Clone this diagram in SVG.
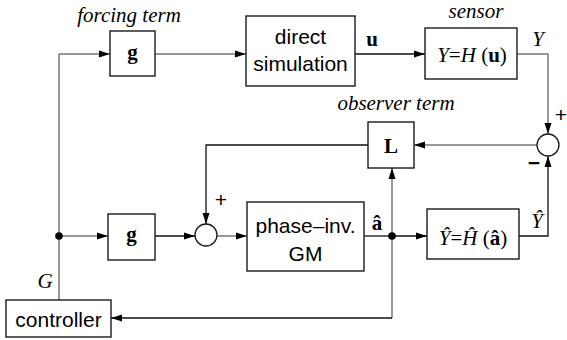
<svg xmlns="http://www.w3.org/2000/svg" width="567" height="340" viewBox="0 0 567 340">
<defs>
<marker id="ah" markerUnits="userSpaceOnUse" markerWidth="12" markerHeight="8" refX="11" refY="4" orient="auto">
<path d="M0,0.5 L11,4 L0,7.5 Z" fill="#000"/>
</marker>
<style>
.box{fill:#fff;stroke:#1a1a1a;stroke-width:1.4}
.sum{fill:#fff;stroke:#1a1a1a;stroke-width:1.3}
.ln{fill:none;stroke:#111;stroke-width:1.3}
.gr{fill:none;stroke:#777;stroke-width:1.5}
.arr{marker-end:url(#ah)}
.sans{font-family:"Liberation Sans",Arial,sans-serif;font-size:21px;fill:#000;text-anchor:middle}
.ser{font-family:"Liberation Serif","Times New Roman",serif;font-size:21px;fill:#000;text-anchor:middle}
.it{font-style:italic}
.bd{font-weight:bold}
</style>
</defs>

<g id="connectors">
<path class="gr" d="M59,300 V54"/>
<path class="gr arr" d="M59,54 H110"/>
<path class="gr arr" d="M155,54 H246"/>
<path class="ln arr" d="M355,54 H425"/>
<path class="gr arr" d="M517,54 H548 V134"/>
<path class="gr arr" d="M537,145 H414"/>
<path class="ln arr" d="M368,145 H206 V224"/>
<path class="gr arr" d="M59,236 H108"/>
<path class="ln arr" d="M155,236 H195"/>
<path class="gr arr" d="M217,236 H247"/>
<path class="ln" d="M364,236 H392"/>
<path class="ln arr" d="M392,236 H427"/>
<path class="gr arr" d="M392,236 V168"/>
<path class="gr" d="M392,236 V318"/>
<path class="ln arr" d="M392,318 H111"/>
<path class="ln arr" d="M519,236 H548 V156"/>
<circle cx="59" cy="236" r="3.8" fill="#000"/>
<circle cx="392" cy="236" r="3.8" fill="#000"/>
</g>

<g id="g-forcing">
<rect class="box" x="110" y="31" width="45" height="45"/>
<text class="ser bd" x="132.5" y="59" font-size="23">g</text>
<text class="ser it" x="129" y="22">forcing term</text>
</g>

<g id="direct-simulation">
<rect class="box" x="246" y="16" width="109" height="70"/>
<text class="sans" x="300.5" y="44">direct</text>
<text class="sans" x="300.5" y="71">simulation</text>
</g>

<g id="u-label">
<text class="ser bd" x="372" y="46">u</text>
</g>

<g id="sensor">
<rect class="box" x="425" y="28" width="92" height="51"/>
<text class="ser" x="472" y="62" font-size="22"><tspan class="it">Y</tspan>=<tspan class="it">H</tspan> (<tspan class="bd">u</tspan>)</text>
<text class="ser it" x="476" y="18">sensor</text>
</g>

<g id="Y-label">
<text class="ser it" x="538" y="46">Y</text>
</g>

<g id="sum-top">
<circle class="sum" cx="548" cy="145" r="11"/>
<text class="sans" x="561" y="122" font-size="23">+</text>
<text class="sans bd" x="534" y="170" font-size="24">−</text>
</g>

<g id="observer-L">
<rect class="box" x="368" y="122" width="46" height="46"/>
<text class="ser bd" x="391" y="153" font-size="22">L</text>
<text class="ser it" x="396" y="110">observer term</text>
</g>

<g id="g-lower">
<rect class="box" x="108" y="214" width="47" height="46"/>
<text class="ser bd" x="131.5" y="241" font-size="23">g</text>
</g>

<g id="sum-bottom">
<circle class="sum" cx="206" cy="235" r="11"/>
<text class="sans" x="221" y="207" font-size="23">+</text>
</g>

<g id="phase-inv-GM">
<rect class="box" x="247" y="202" width="117" height="69"/>
<text class="sans" x="305.5" y="233">phase–inv.</text>
<text class="sans" x="305.5" y="261">GM</text>
</g>

<g id="a-hat-label">
<text class="ser bd" x="377" y="230">â</text>
</g>

<g id="model-sensor">
<rect class="box" x="427" y="209" width="92" height="50"/>
<text class="ser" x="473" y="245" font-size="22"><tspan class="it">Ŷ</tspan>=<tspan class="it">Ĥ</tspan> (<tspan class="bd">â</tspan>)</text>
</g>

<g id="Yhat-label">
<text class="ser it" x="537" y="228">Ŷ</text>
</g>

<g id="controller">
<rect class="box" x="6" y="300" width="105" height="37"/>
<text class="sans" x="58.5" y="327">controller</text>
<text class="ser it" x="45" y="288">G</text>
</g>
</svg>
